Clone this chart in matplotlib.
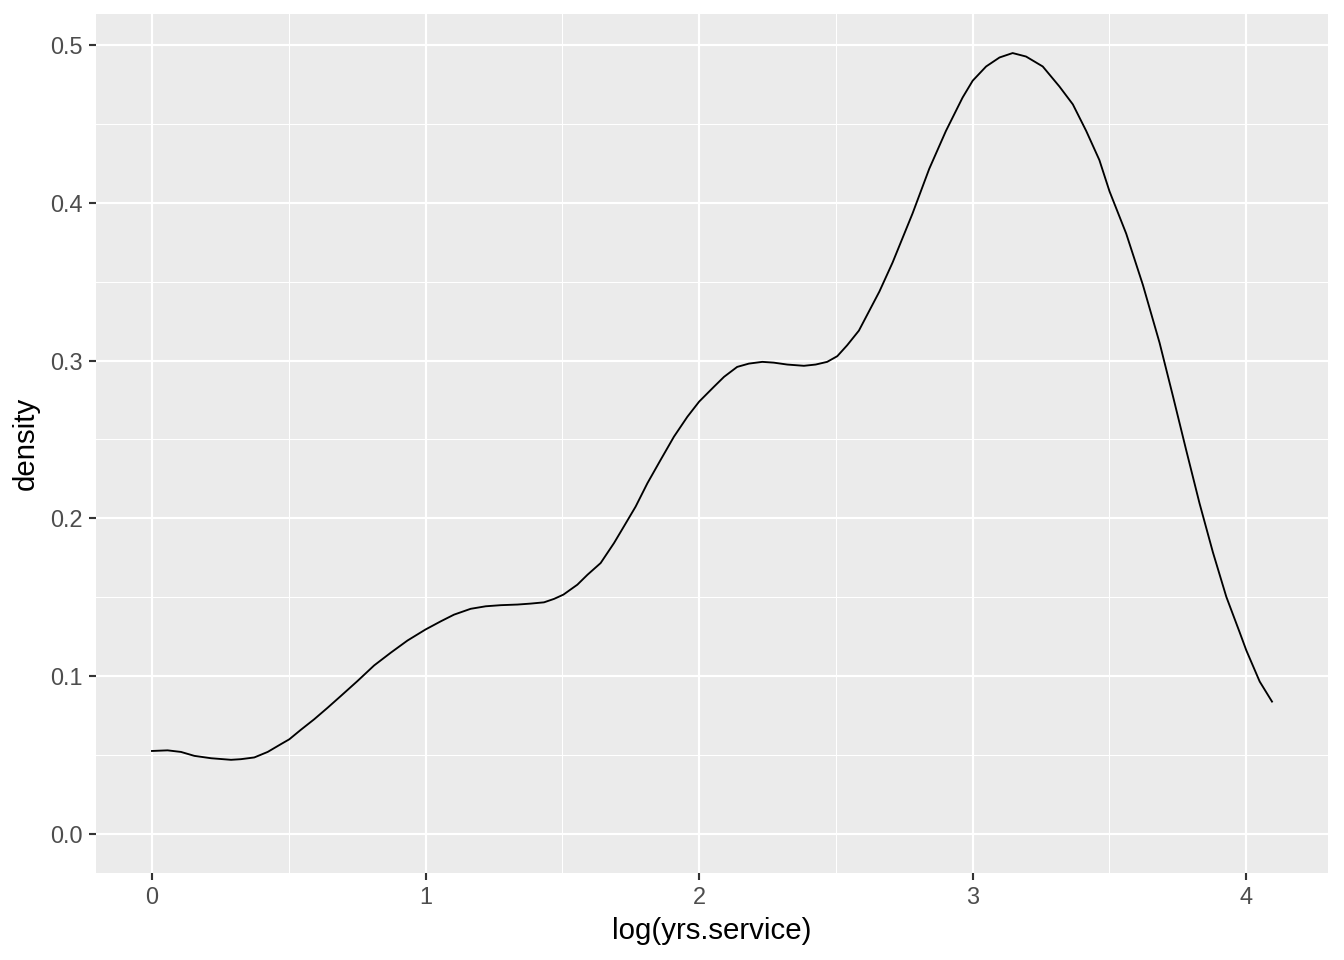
import numpy as np
import matplotlib.pyplot as plt

# -------------------------
# Data
# -------------------------

log_yrs = [0.0, 0.057, 0.106, 0.155, 0.216, 0.289, 0.325, 0.374, 0.423, 0.471,
           0.502, 0.544, 0.593, 0.642, 0.690, 0.751, 0.812, 0.873, 0.934, 1.0,
           1.056, 1.104, 1.165, 1.22, 1.275, 1.336, 1.384, 1.433, 1.47, 1.504,
           1.555, 1.592, 1.640, 1.689, 1.725, 1.768, 1.811, 1.859, 1.908, 1.957,
           2.0, 2.054, 2.091, 2.139, 2.182, 2.231, 2.273, 2.322, 2.383, 2.426,
           2.468, 2.505, 2.541, 2.584, 2.659, 2.707, 2.780, 2.841, 2.902, 2.963,
           3.0, 3.049, 3.098, 3.146, 3.195, 3.256, 3.317, 3.366, 3.415, 3.463,
           3.5, 3.561, 3.622, 3.683, 3.732, 3.780, 3.829, 3.878, 3.927, 3.976,
           4.0, 4.049, 4.094]
density = [0.0526, 0.0530, 0.0520, 0.0495, 0.0480, 0.0470, 0.0474, 0.0485, 0.0520,
           0.0569, 0.0600, 0.0660, 0.0727, 0.0800, 0.0874, 0.0969, 0.1068, 0.1149,
           0.1226, 0.1296, 0.1348, 0.1390, 0.1427, 0.1443, 0.1450, 0.1454, 0.1460,
           0.1468, 0.1490, 0.1517, 0.1580, 0.1643, 0.1717, 0.1844, 0.1949, 0.2075,
           0.2223, 0.2370, 0.2518, 0.2644, 0.2740, 0.2834, 0.2897, 0.2960, 0.2981,
           0.2992, 0.2987, 0.2975, 0.2967, 0.2975, 0.2992, 0.3028, 0.3097, 0.3190,
           0.3438, 0.3621, 0.3932, 0.4215, 0.4455, 0.4667, 0.4774, 0.4864, 0.4921,
           0.4949, 0.4927, 0.4864, 0.4737, 0.4624, 0.4455, 0.4271, 0.4073, 0.3805,
           0.3480, 0.3113, 0.2774, 0.2435, 0.2096, 0.1785, 0.1503, 0.1277, 0.1164,
           0.0966, 0.0839]

x_ticks = [0, 1, 2, 3, 4]
y_ticks = [0.0, 0.1, 0.2, 0.3, 0.4, 0.5]
y_labels = ["0.0", "0.1", "0.2", "0.3", "0.4", "0.5"]

# -------------------------
# Plot (ggplot2 grey theme look)
# -------------------------

plt.rcParams['font.family'] = ['Liberation Sans', 'DejaVu Sans']

fig = plt.figure(figsize=(7, 5), dpi=192)
ax = fig.add_axes([0.0714, 0.0906, 0.9167, 0.8948])

ax.set_facecolor("#EBEBEB")
for s in ax.spines.values():
    s.set_visible(False)

ax.plot(log_yrs, density, color="black", linewidth=0.7,
        solid_joinstyle="round")

x_lo, x_hi = 0.0, 4.094
y_lo, y_hi = 0.0, 0.4949
xpad = (x_hi - x_lo) * 0.05
ypad = (y_hi - y_lo) * 0.05
ax.set_xlim(x_lo - xpad, x_hi + xpad)
ax.set_ylim(y_lo - ypad, y_hi + ypad)

ax.set_xticks(x_ticks)
ax.set_xticklabels([str(v) for v in x_ticks])
ax.set_yticks(y_ticks)
ax.set_yticklabels(y_labels)
ax.set_xticks([0.5, 1.5, 2.5, 3.5], minor=True)
ax.set_yticks([0.05, 0.15, 0.25, 0.35, 0.45], minor=True)

ax.grid(which="major", color="white", linewidth=0.8)
ax.grid(which="minor", color="white", linewidth=0.4)
ax.set_axisbelow(True)

ax.tick_params(which="major", length=2.75, width=0.8, color="#333333",
               labelcolor="#4D4D4D", labelsize=8.8, pad=2.2)
ax.tick_params(which="minor", length=0)

ax.set_xlabel("log(yrs.service)", fontsize=11, color="black", labelpad=3)
ax.set_ylabel("density", fontsize=11, color="black", labelpad=4)

plt.savefig("out.png", dpi=192)
